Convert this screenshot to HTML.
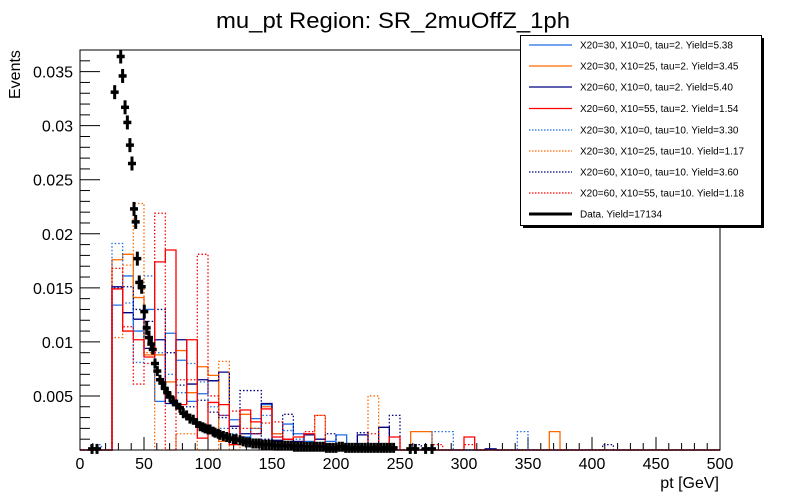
<!DOCTYPE html>
<html><head><meta charset="utf-8"><style>
body{margin:0;background:#fff;}
svg{display:block;font-family:"Liberation Sans",Arial,sans-serif;}
</style></head><body>
<svg id="chart" width="800" height="500" viewBox="0 0 800 500">
<rect x="0" y="0" width="800" height="500" fill="#fff"/>
<text x="393" y="28" font-size="22" text-anchor="middle" textLength="354" lengthAdjust="spacingAndGlyphs">mu_pt Region: SR_2muOffZ_1ph</text>
<text transform="translate(20,99) rotate(-90)" font-size="16">Events</text>
<text x="719" y="488" font-size="16" text-anchor="end">pt [GeV]</text>
<g id="axes"></g>
<g id="hists"></g>
<g id="data"></g>
<rect x="80" y="50" width="640" height="400" fill="none" stroke="#000" stroke-width="1"/>
<g id="legend"></g>
</svg>
<script>
const NS="http://www.w3.org/2000/svg";
const nBins=60, xMin=0, xMax=500, yMax=0.037;
const xTicks=[0,50,100,150,200,250,300,350,400,450,500];
const yTicks=[0.005,0.01,0.015,0.02,0.025,0.03,0.035];
const yTickLabels=["0.005","0.01","0.015","0.02","0.025","0.03","0.035"];
const seriesNames=["X20=30, X10=0, tau=2. Yield=5.38","X20=30, X10=25, tau=2. Yield=3.45","X20=60, X10=0, tau=2. Yield=5.40","X20=60, X10=55, tau=2. Yield=1.54","X20=30, X10=0, tau=10. Yield=3.30","X20=30, X10=25, tau=10. Yield=1.17","X20=60, X10=0, tau=10. Yield=3.60","X20=60, X10=55, tau=10. Yield=1.18"];
const dataName="Data. Yield=17134";
function sp(o){const a=new Array(nBins).fill(0);for(const k in o)a[+k]=o[k];return a;}
const blueSolid=sp({3:.0134,4:.0161,5:.0110,6:.0130,7:.0045,8:.0108,9:.0083,10:.0045,11:.0052,12:.0064,13:.0032,14:.0028,15:.0012,16:.0029,17:.0042,18:.0015,19:.0024,20:.0015,21:.0008,22:.0004,23:.0008,24:.0014,38:.0001});
const orangeSolid=sp({3:.0176,4:.0181,5:.0141,6:.0088,7:.0088,8:.0063,9:.0092,10:.0053,11:.0077,12:.0069,13:.0008,14:.0005,15:.0033,16:.0020,17:.0040,18:.0015,19:.0005,20:.0005,31:.0017,32:.0017,44:.0017});
const navySolid=sp({3:.0151,4:.0127,5:.0121,6:.0094,7:.0102,8:.0043,9:.0102,10:.0061,11:.0065,12:.0064,13:.0072,14:.0022,15:.0015,16:.0015,17:.0043,18:.0009,19:.0010,20:.0008,21:.0014,22:.0010,26:.0014,28:.0021,38:.0001});
const redSolid=sp({3:.0149,4:.0110,5:.0102,6:.0086,7:.0174,8:.0185,9:.0042,10:.0102,11:.0011,12:.0044,13:.0042,14:.0005,15:.0037,16:.0026,17:.0038,18:.0012,19:.0010,20:.0012,21:.0015,23:.0005,29:.0012,36:.0012});
const blueDotted=sp({1:.0005,3:.0191,4:.0136,5:.0081,6:.0161,7:.0090,8:.0070,9:.0053,10:.0080,11:.0063,12:.0040,13:.0020,14:.0015,15:.0010,16:.0020,17:.0032,18:.0012,19:.0018,20:.0010,33:.0017,34:.0017,41:.0017});
const orangeDotted=sp({3:.0104,4:.0171,5:.0228,6:.0090,9:.0015,10:.0015,13:.0082,15:.0010,16:.0008,22:.0032,27:.0050});
const navyDotted=sp({3:.0150,4:.0151,5:.0130,6:.0119,7:.0130,8:.0090,9:.0060,10:.0040,11:.0046,12:.0035,13:.0030,14:.0020,15:.0055,16:.0055,17:.0010,18:.0008,19:.0033,23:.0015,26:.0016,29:.0032,31:.0005,49:.0005});
const redDotted=sp({3:.0168,4:.0114,5:.0061,6:.0080,7:.0219,9:.0065,10:.0065,11:.0181,12:.0050,13:.0032,14:.0036,15:.0020,16:.0015,17:.0025,18:.0026,19:.0010,21:.0017,22:.0032,27:.0015,33:.0005,36:.0005});
const dataPt=[9.4,13.3,27.1,31.8,33.3,35.2,37,39,40.6,42.2,43.5,44.8,46.3,48.2,50.2,52.1,53.9,55.7,56.8,58.6,60.4,62.5,64.3,66.2,68.2,70.3,72.9,75.5,78.1,80.7,83.3,85.9,88.5,91.1,93.8,96,97.7,100,101.6,104,105.5,108,109.4,112,114.6,117,119.8,122,125,127.5,130,132.5,135,137.5,140,142.5,145,147.5,150,152.5,155,157.5,160,162.5,165,167.5,170,172.5,175,177.5,180,182.5,185,187.5,190,192.5,195,197.5,200,202.5,205,207.5,210,212.5,215,217.5,220,222.5,225,227.5,230,232.5,235,237.5,240,242.5,245,258,262,270,275];
const dataVal=[.0001,.0001,.0331,.0364,.0346,.0317,.0303,.0282,.0265,.0223,.0211,.0177,.0155,.0151,.0128,.0113,.0104,.0098,.0093,.0080,.0073,.0065,.0062,.0057,.0053,.0049,.0045,.0042,.0039,.0034,.0032,.0029,.0028,.0025,.0022,.0021,.0020,.0019,.0019,.0017,.0016,.0015,.0014,.0013,.0012,.0011,.0010,.0010,.0009,.0008,.0007,.0007,.0006,.0006,.0006,.0005,.0005,.0005,.0005,.0004,.0004,.0004,.0004,.0004,.0004,.0003,.0003,.0003,.0003,.0003,.0003,.0003,.0003,.0003,.0003,.0002,.0002,.0002,.0002,.0003,.0003,.0002,.0002,.0002,.0002,.0002,.0002,.0002,.0002,.0002,.0002,.0002,.0002,.0002,.0002,.0002,.0002,.0001,.0001,.0001,.0001];
const X0=80,X1=720,Y0=450,Y1=50;
const xs=v=>X0+(v-xMin)/(xMax-xMin)*(X1-X0);
const ys=v=>Y0-v/yMax*(Y0-Y1);
function mk(t,a,p){const e=document.createElementNS(NS,t);for(const k in a)e.setAttribute(k,a[k]);(p||document.getElementById('chart')).appendChild(e);return e;}
const axes=document.getElementById('axes');
for(let v=0;v<=500;v+=10){const major=v%50===0;
 const t=mk('line',{x1:xs(v),x2:xs(v),y1:Y0,y2:Y0-(major?13:7),stroke:'#000'},axes);
 
 }
xTicks.forEach(v=>{const t=mk('text',{x:xs(v),y:469,'font-size':16,'text-anchor':'middle'},axes);t.textContent=v;
 
 });
for(let i=1;i<=36;i++){const v=i*0.001;const major=i%5===0;
 const t=mk('line',{x1:X0,x2:X0+(major?20:10),y1:ys(v),y2:ys(v),stroke:'#000'},axes);
 
 }
yTicks.forEach((v,i)=>{const t=mk('text',{x:73,y:ys(v)+6,'font-size':16,'text-anchor':'end'},axes);t.textContent=yTickLabels[i];
 
 });
const styles=[["#1e6ee6",0],["#ff6a00",0],["#000080",0],["#ff0000",0],["#1e6ee6",1],["#ff6a00",1],["#000080",1],["#ff0000",1]];
const series=[blueSolid,orangeSolid,navySolid,redSolid,blueDotted,orangeDotted,navyDotted,redDotted];
const order=[0,1,2,4,5,6,7,3];
const hg=document.getElementById('hists');
const bw=(xMax-xMin)/nBins;
order.forEach(si=>{const vals=series[si];let d=`M${xs(xMin)},${Y0}`;
 vals.forEach((v,i)=>{d+=` L${xs(xMin+i*bw)},${ys(v)} L${xs(xMin+(i+1)*bw)},${ys(v)}`;});
 d+=` L${xs(xMax)},${Y0}`;
 const p=mk('path',{d:d,fill:'none',stroke:styles[si][0],'stroke-width':1.3,'stroke-dasharray':styles[si][1]?'1.5 2':'none'},hg);
 
 });
const dg=document.getElementById('data');
dataPt.forEach((x,i)=>{const cx=xs(x),cy=ys(dataVal[i]);const h=dataVal[i]>0.01?7:5;
 const g=mk('g',{},dg);
 
 
 mk('line',{x1:cx-4,x2:cx+4,y1:cy,y2:cy,stroke:'#000','stroke-width':3.5},g);
 mk('line',{x1:cx,x2:cx,y1:cy-h,y2:cy+h,stroke:'#000','stroke-width':3},g);});
const lg=document.getElementById('legend');
mk('rect',{x:523,y:38,width:241,height:190,fill:'#000'},lg);
mk('rect',{x:520.5,y:35.5,width:241,height:190,fill:'#fff',stroke:'#000'},lg);
const ly=[45,66,87,108.5,130,151,172,193];
seriesNames.forEach((n,i)=>{const g=mk('g',{},lg);
 
 
 mk('line',{x1:529,x2:572,y1:ly[i],y2:ly[i],stroke:styles[i][0],'stroke-width':1.3,'stroke-dasharray':styles[i][1]?'1.5 1.5':'none'},g);
 const t=mk('text',{x:580,y:ly[i]+3.5,'font-size':10},g);t.textContent=n;});
const g9=mk('g',{},lg);


mk('line',{x1:529,x2:572,y1:214,y2:214,stroke:'#000','stroke-width':3},g9);
const t9=mk('text',{x:580,y:217.5,'font-size':10},g9);t9.textContent=dataName;
</script>
</body></html>
